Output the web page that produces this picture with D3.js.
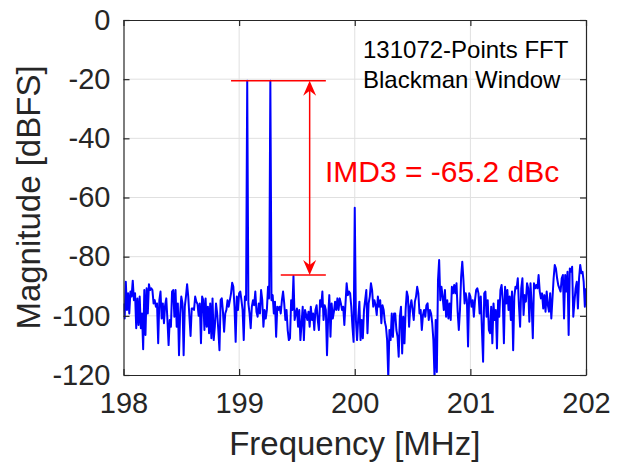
<!DOCTYPE html>
<html>
<head>
<meta charset="utf-8">
<script src="https://cdn.jsdelivr.net/npm/d3@7"></script>
<style>
  body { margin: 0; background: #fff; }
  text { font-family: "Liberation Sans", Arial, sans-serif; }
</style>
</head>
<body>
<div id="chart"></div>
<script>
// FFT bins: first bin frequency and spacing (MHz)
var binStart = 198
var binStep = 0.01

// magnitude of each bin (dBFS)
var magnitude = [
  -95.8, -100.9, -88.5, -98.0, -92.4, -99.2, -91.8, -93.5, -88.1, -94.7,
  -92.4, -104.2, -94.1, -103.1, -93.5, -104.2, -99.2, -111.3, -91.3, -106.5,
  -90.7, -99.2, -89.3, -91.3, -90.7, -91.3, -95.8, -94.7, -96.9, -95.8,
  -109.3, -94.7, -91.8, -100.9, -95.8, -102.5, -96.4, -94.1, -101.4, -109.9,
  -101.4, -103.7, -91.8, -91.3, -100.3, -91.3, -103.7, -95.8, -113.3, -99.2,
  -93.5, -95.8, -113.3, -96.9, -93.5, -89.3, -93.5, -100.3, -106.8, -97.5,
  -97.5, -98.0, -93.5, -95.2, -96.0, -100.0,
  -95.8, -109.3, -93.5, -94.7, -104.8, -94.1, -103.7, -96.9, -105.9, -95.8,
  -107.6, -94.1, -108.2, -103.7, -95.8, -99.2, -104.8, -111.6, -94.7, -94.1,
  -98.6, -105.4, -99.2, -98.0, -94.7, -96.9, -94.7, -92.4, -88.8, -90.2,
  -96.9, -108.8, -93.5, -98.0, -92.4, -91.8, -94.7, -98.0, -108.2, -93.5,
  -94.7,
  -20.5,
  -95.8, -99.2, -104.2, -96.9, -94.7, -96.4, -91.8, -98.6, -100.3, -95.8,
  -99.2, -91.3, -94.7, -103.7, -98.0, -100.9, -98.0, -90.2, -94.1,
  -20.5,
  -94.7, -93.0, -99.2, -95.2, -107.1, -96.9, -98.0, -96.9,
  -99.2, -94.7, -91.8, -95.8, -101.4, -98.0, -104.8, -108.2, -107.6, -94.7, -98.0,
  -86.5,
  -101.4, -99.2, -97.5, -103.7, -98.0, -108.2, -102.5, -96.9, -108.2, -98.0,
  -99.7, -101.4, -98.6, -103.7, -96.9, -101.4, -99.2, -104.8, -98.0, -96.4,
  -101.4, -104.8, -94.7, -96.9, -91.8, -101.4, -96.4, -98.0, -113.3, -100.3,
  -93.0, -107.1, -95.8, -100.9, -98.6, -95.2, -98.0, -94.1, -98.0, -94.1,
  -95.8, -98.0, -96.9, -103.1, -95.8, -89.0, -93.0, -91.8, -92.4, -96.9,
  -103.7, -108.8,
  -63.5,
  -101.4, -108.2, -100.9, -95.2, -108.2, -101.4, -107.6, -98.0, -94.7, -91.3,
  -105.9, -95.8, -93.5, -89.0, -91.3, -96.9, -94.7, -96.4, -99.7, -93.5,
  -96.9, -94.7, -102.5, -96.4, -98.0, -102.0, -103.7, -108.2, -121.0, -104.8,
  -108.2, -99.2, -107.1, -99.2, -99.2, -104.8, -107.1, -113.8, -100.3, -96.9,
  -112.7, -100.3, -109.3, -98.0, -91.8, -93.5, -103.7, -96.9, -94.7, -98.0,
  -101.4, -95.2, -93.5, -90.2, -92.4, -99.2, -98.0, -104.8, -99.7, -98.0,
  -100.3, -96.4, -95.8, -101.4, -98.0, -99.2, -102.5, -108.2,
  -121.0, -101.4, -119.0, -87.9, -81.1, -94.7, -90.2, -93.5, -98.0, -91.3,
  -100.3, -94.7, -100.9, -95.8, -101.4, -90.2, -92.4, -89.6, -92.4, -89.0,
  -98.6, -104.8, -98.0, -86.8, -81.7, -87.9, -95.8, -92.4, -94.7, -110.4,
  -92.4, -93.5, -96.9, -94.7, -100.3, -94.7, -91.3, -90.7, -92.4, -99.2,
  -93.5, -104.8, -115.5, -92.4, -91.8, -100.3, -94.7, -104.8, -105.9, -96.9,
  -109.3, -95.8, -101.4, -98.0, -111.0, -94.7, -100.3, -91.3, -89.6, -94.7,
  -109.3, -90.2, -95.8, -91.3, -98.0, -93.5, -101.4, -91.8, -111.6, -93.5,
  -90.2, -90.7, -87.3, -96.4, -103.7, -90.7, -87.3, -99.7, -93.0, -95.2,
  -89.0, -90.7, -102.0, -89.0, -96.4, -107.6, -89.0, -90.7, -89.6, -90.7,
  -86.2, -91.8, -94.1, -92.4, -97.5, -93.0, -98.6, -91.8, -96.4, -98.6,
  -92.4, -100.9, -94.1, -87.3, -82.8, -84.0, -87.3, -89.6, -90.7, -91.8,
  -87.3, -86.2, -100.9, -86.2, -91.8, -85.1, -106.5, -84.0, -85.1, -83.4,
  -100.3, -95.2, -90.7, -88.5, -97.5, -87.3, -82.8, -85.6, -85.1, -88.5,
  -96.9, -90.7
]

var xTicks = [198, 199, 200, 201, 202]
var yTicks = [0, -20, -40, -60, -80, -100, -120]

// IMD3 annotation: tone level, spur level, marker line spans, arrow position
var markLevels = [-20.5, -86.2]
var markSpans = [[198.93, 199.75], [199.36, 199.75]]
var arrowFreq = 199.61
var imdLabel = "IMD3 = -65.2 dBc"
var fftLabels = ["131072-Points FFT", "Blackman Window"]

/***** Layout *****/
var W = 620, H = 464
var margin = { top: 20, right: 34, bottom: 89, left: 123.5 }
var width = W - margin.left - margin.right
var height = H - margin.top - margin.bottom
var axisColor = "#262626"

var svg = d3.select("#chart").append("svg")
    .attr("width", W).attr("height", H)

var g = svg.append("g")
    .attr("transform", "translate(" + margin.left + "," + margin.top + ")")

var x = d3.scaleLinear().domain([198, 202]).range([0, width])
var y = d3.scaleLinear().domain([-120, 0]).range([height, 0])

// grid
g.append("g").selectAll("line").data(xTicks.slice(1, -1)).join("line")
    .attr("x1", d => x(d)).attr("x2", d => x(d))
    .attr("y1", 0).attr("y2", height)
    .attr("stroke", "#e0e0e0").attr("stroke-width", 1)
g.append("g").selectAll("line").data(yTicks.slice(1, -1)).join("line")
    .attr("y1", d => y(d)).attr("y2", d => y(d))
    .attr("x1", 0).attr("x2", width)
    .attr("stroke", "#e0e0e0").attr("stroke-width", 1)

// trace
svg.append("defs").append("clipPath").attr("id", "plotclip")
  .append("rect").attr("width", width).attr("height", height)

var spectrum = magnitude.map((m, i) => ({ f: binStart + i * binStep, m: m }))

g.append("path")
    .datum(spectrum)
    .attr("clip-path", "url(#plotclip)")
    .attr("fill", "none")
    .attr("stroke", "#0000ff")
    .attr("stroke-width", 2)
    .attr("stroke-linejoin", "round")
    .attr("d", d3.line().x(d => x(d.f)).y(d => y(d.m)))

// axes with inward ticks on all four sides
function styleAxis(sel) {
  sel.select(".domain").attr("stroke", axisColor).attr("stroke-width", 1.2)
  sel.selectAll(".tick line").attr("stroke", axisColor).attr("stroke-width", 1.2)
  sel.selectAll("text").attr("fill", axisColor)
     .style("font-family", "'Liberation Sans', Arial, sans-serif")
}

var plain = d => String(d)   // hyphen minus like the original

g.append("g").attr("transform", "translate(0," + height + ")")
  .call(d3.axisBottom(x).tickValues(xTicks).tickFormat(plain)
        .tickSizeInner(-6).tickSizeOuter(0).tickPadding(17))
  .call(styleAxis)
  .selectAll("text").style("font-size", "29px")

g.append("g")
  .call(d3.axisLeft(y).tickValues(yTicks).tickFormat(plain)
        .tickSizeInner(-6).tickSizeOuter(0).tickPadding(13))
  .call(styleAxis)
  .selectAll("text").style("font-size", "29px")

g.append("g")
  .call(d3.axisTop(x).tickValues(xTicks).tickFormat("").tickSizeInner(-6).tickSizeOuter(0))
  .call(styleAxis)

g.append("g").attr("transform", "translate(" + width + ",0)")
  .call(d3.axisRight(y).tickValues(yTicks).tickFormat("").tickSizeInner(-6).tickSizeOuter(0))
  .call(styleAxis)

// axis labels
svg.append("text")
    .attr("x", margin.left + width / 2).attr("y", 455)
    .attr("text-anchor", "middle")
    .attr("fill", axisColor).style("font-size", "33px")
    .text("Frequency [MHz]")

svg.append("text")
    .attr("transform", "translate(40," + (margin.top + height / 2) + ") rotate(-90)")
    .attr("text-anchor", "middle")
    .attr("fill", axisColor).style("font-size", "33px")
    .text("Magnitude [dBFS]")

// IMD3 marker lines
g.append("g").selectAll("line").data(markLevels).join("line")
    .attr("x1", (d, i) => x(markSpans[i][0]))
    .attr("x2", (d, i) => x(markSpans[i][1]))
    .attr("y1", d => y(d)).attr("y2", d => y(d))
    .attr("stroke", "#ff0000").attr("stroke-width", 1.5)

// double arrow
var ax = x(arrowFreq), yTop = y(markLevels[0]), yBot = y(markLevels[1])
g.append("line")
    .attr("x1", ax).attr("x2", ax).attr("y1", yTop + 4).attr("y2", yBot - 4)
    .attr("stroke", "#ff0000").attr("stroke-width", 1.5)

function head(tipY, dir) {
  // dir = +1 pointing down, -1 pointing up
  var L = 15, w = 6.5, n = 10
  return "M" + ax + "," + tipY +
    "L" + (ax - w) + "," + (tipY - dir * L) +
    "L" + ax + "," + (tipY - dir * n) +
    "L" + (ax + w) + "," + (tipY - dir * L) + "Z"
}
g.append("path").attr("d", head(yTop, -1)).attr("fill", "#ff0000")
g.append("path").attr("d", head(yBot, 1)).attr("fill", "#ff0000")

svg.append("text")
    .attr("x", 325).attr("y", 182)
    .attr("fill", "#ff0000").style("font-size", "30px")
    .text(imdLabel)

svg.append("g").selectAll("text").data(fftLabels).join("text")
    .attr("x", 363).attr("y", (d, i) => 58 + i * 30)
    .attr("fill", "#000").style("font-size", "24px")
    .text(d => d)
</script>
</body>
</html>
